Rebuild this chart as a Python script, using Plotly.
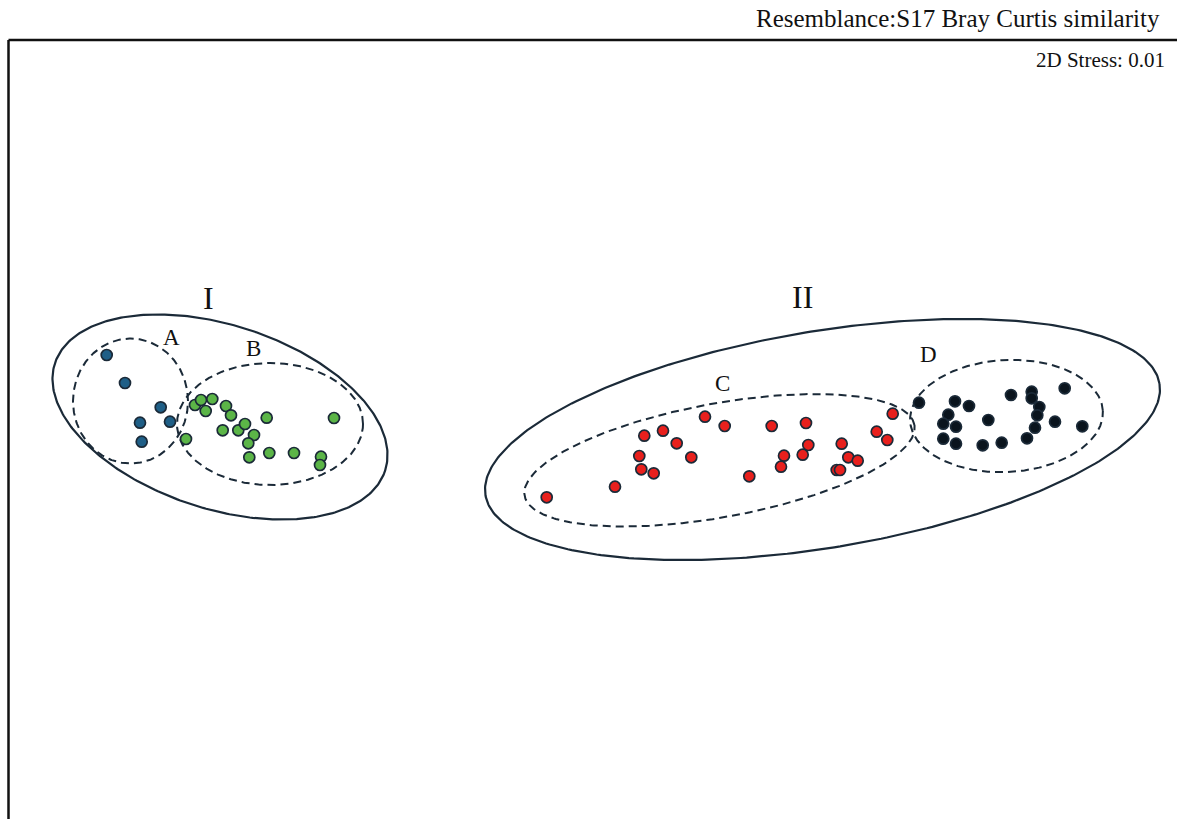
import numpy as np
import plotly.graph_objects as go

# nMDS ordination coordinates (MDS1, MDS2) for each sample group
a_x = [-4.933, -4.750, -4.393, -4.600, -4.300, -4.583]
a_y = [0.650, 0.370, 0.127, -0.027, -0.017, -0.217]

b_x = [-4.140, -4.050, -3.990, -3.943, -3.877, -3.740, -3.690, -3.773, -3.617, -3.550,
       -3.460, -3.517, -3.507, -3.333, -3.307, -3.060, -2.790, -2.800, -2.660]
b_y = [-0.190, 0.150, 0.200, 0.090, 0.210, 0.140, 0.047, -0.103, -0.103, -0.040,
       -0.150, -0.233, -0.373, 0.023, -0.330, -0.330, -0.367, -0.450, 0.020]

c_x = [-0.533, 0.150, 0.443, 0.630, 0.767, 0.393, 0.413, 0.537, 0.913, 1.050,
       1.247, 1.493, 1.717, 2.060, 2.083, 1.840, 2.027, 1.810, 2.417, 2.483,
       2.577, 2.367, 2.400, 2.767, 2.873, 2.927]
c_y = [-0.773, -0.667, -0.157, -0.107, -0.233, -0.360, -0.493, -0.533, -0.373, 0.033,
       -0.060, -0.563, -0.060, -0.030, -0.250, -0.357, -0.347, -0.467, -0.237, -0.373,
       -0.407, -0.500, -0.500, -0.117, -0.200, 0.063]

d_x = [3.190, 3.550, 3.690, 3.483, 3.433, 3.560, 3.433, 3.560, 3.827, 4.017,
       3.883, 4.110, 4.317, 4.317, 4.393, 4.373, 4.350, 4.270, 4.550, 4.647, 4.823]
d_y = [0.173, 0.187, 0.140, 0.053, -0.037, -0.067, -0.187, -0.237, -0.253, -0.227,
       0.000, 0.250, 0.283, 0.217, 0.130, 0.047, -0.077, -0.183, -0.017, 0.317, -0.063]

group_colors = {"A": "#1f5f87", "B": "#5bb547", "C": "#e8201d", "D": "#0a141d"}

# similarity contours: centre x, centre y, semi-axis 1, semi-axis 2, rotation (deg)
clusters = {
    "I":  (-3.800, 0.030, 1.736, 0.919, -18.0),
    "II": (2.225, -0.195, 3.416, 1.083, 9.4),
}
subgroups = {
    "A": (-4.695, 0.190, 0.575, 0.625, 0.0),
    "B": (-3.300, -0.040, 0.930, 0.610, 0.0),
    "C": (1.195, -0.403, 1.981, 0.569, 10.3),
    "D": (4.065, 0.040, 0.965, 0.560, 3.0),
}

# label positions
cluster_labels = {"I": (-3.92, 1.22), "II": (2.02, 1.23)}
group_labels = {"A": (-4.283, 0.827), "B": (-3.467, 0.717), "C": (1.22, 0.367), "D": (3.283, 0.66)}

line_col = "#1b2a38"


def ellipse(cx, cy, a, b, deg, n=361):
    t = np.linspace(0, 2 * np.pi, n)
    th = np.deg2rad(deg)
    x = cx + a * np.cos(t) * np.cos(th) - b * np.sin(t) * np.sin(th)
    y = cy + a * np.cos(t) * np.sin(th) + b * np.sin(t) * np.cos(th)
    return x, y


fig = go.Figure()

for name, (cx, cy, a, b, deg) in clusters.items():
    ex, ey = ellipse(cx, cy, a, b, deg)
    fig.add_trace(go.Scatter(x=ex, y=ey, mode="lines", hoverinfo="skip",
                             line=dict(color=line_col, width=2.2)))

for name, (cx, cy, a, b, deg) in subgroups.items():
    ex, ey = ellipse(cx, cy, a, b, deg)
    fig.add_trace(go.Scatter(x=ex, y=ey, mode="lines", hoverinfo="skip",
                             line=dict(color=line_col, width=2, dash="8px,5px")))

for name, xs, ys in [("A", a_x, a_y), ("B", b_x, b_y), ("C", c_x, c_y), ("D", d_x, d_y)]:
    fig.add_trace(go.Scatter(
        x=xs, y=ys, mode="markers", name=name,
        marker=dict(size=11, color=group_colors[name],
                    line=dict(color=line_col, width=1.7)),
    ))

serif = "Liberation Serif, Times New Roman, serif"

for name, (lx, ly) in cluster_labels.items():
    fig.add_annotation(x=lx, y=ly, text=name, showarrow=False,
                       font=dict(family=serif, size=32, color="#111111"),
                       xanchor="center", yanchor="middle")

for name, (lx, ly) in group_labels.items():
    fig.add_annotation(x=lx, y=ly, text=name, showarrow=False,
                       font=dict(family=serif, size=23, color="#111111"),
                       xanchor="center", yanchor="middle")

W, H = 1177, 819

fig.add_annotation(xref="paper", yref="paper", x=1162 / W, y=1 - 18 / H,
                   text="Resemblance:S17 Bray Curtis similarity", showarrow=False,
                   font=dict(family=serif, size=25, color="#111111"),
                   xanchor="right", yanchor="middle")
fig.add_annotation(xref="paper", yref="paper", x=1167 / W, y=1 - 60 / H,
                   text="2D Stress: 0.01", showarrow=False,
                   font=dict(family=serif, size=21, color="#111111"),
                   xanchor="right", yanchor="middle")

# plot frame (top and left edges)
fig.add_shape(type="line", xref="paper", yref="paper",
              x0=8.5 / W, x1=1.0, y0=1 - 40 / H, y1=1 - 40 / H,
              line=dict(color="#111111", width=2.5))
fig.add_shape(type="line", xref="paper", yref="paper",
              x0=8.5 / W, x1=8.5 / W, y0=1 - 40 / H, y1=0,
              line=dict(color="#111111", width=2.5))

fig.update_layout(
    width=W, height=H,
    margin=dict(l=0, r=0, t=0, b=0),
    paper_bgcolor="white", plot_bgcolor="white",
    showlegend=False,
    xaxis=dict(range=[-6.0, 5.77], visible=False, showgrid=False, zeroline=False),
    yaxis=dict(range=[-3.99, 4.2], visible=False, showgrid=False, zeroline=False),
)

fig.write_html("out.html")
